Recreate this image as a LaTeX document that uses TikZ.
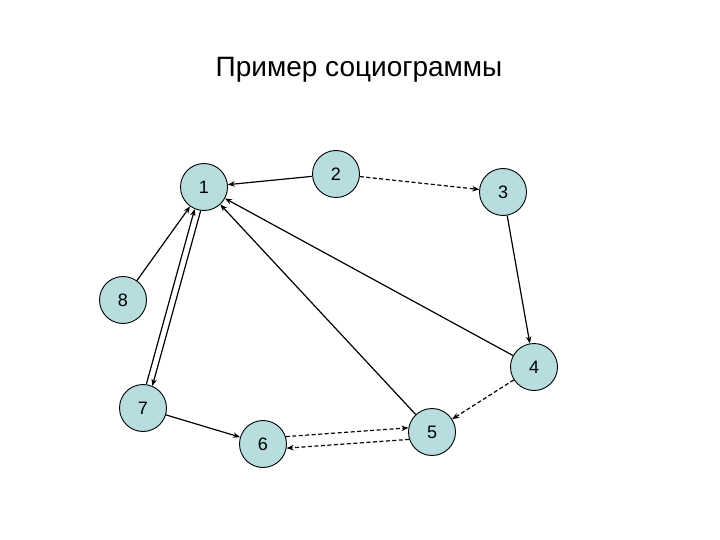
\documentclass[tikz,border=0pt]{standalone}
\usepackage{fontspec}
\setmainfont{Liberation Sans}
\usetikzlibrary{arrows.meta}
\definecolor{nodefill}{RGB}{183,221,222}
\begin{document}
\begin{tikzpicture}[x=1pt,y=-1pt,
  person/.style={circle,draw=black,line width=0.9pt,fill=nodefill,minimum size=47pt,inner sep=0pt,font=\fontsize{18}{18}\selectfont},
  link/.style={line width=1.2pt,-{Stealth[length=7pt,width=5.5pt]}},
  dlink/.style={link,dash pattern=on 4pt off 2.5pt}]
\useasboundingbox (0,0) rectangle (720,540);
\node[font=\fontsize{28}{28}\selectfont] (title) at (359,70) {Пример социограммы};
\node[person] (n1) at (204,187) {1};
\node[person] (n2) at (336,174) {2};
\node[person] (n3) at (503,192) {3};
\node[person] (n4) at (534,367) {4};
\node[person] (n5) at (432,432) {5};
\node[person] (n6) at (263,444) {6};
\node[person] (n7) at (143,408) {7};
\node[person] (n8) at (123,300) {8};
\draw[link] (n2) -- (n1);
\draw[dlink] (n2) -- (n3);
\draw[link] (n3) -- (n4);
\draw[dlink] (n4) -- (n5);
\draw[link] (n4) -- (n1);
\draw[link] (n5) -- (n1);
\draw[link] (n8) -- (n1);
\draw[link] (n7.82) -- (n1.247);
\draw[link] (n1.262) -- (n7.67);
\draw[link] (n7) -- (n6);
\draw[dlink] (n6.18) -- (n5.170);
\draw[dlink] (n5.198) -- (n6.350);
\end{tikzpicture}
\end{document}
